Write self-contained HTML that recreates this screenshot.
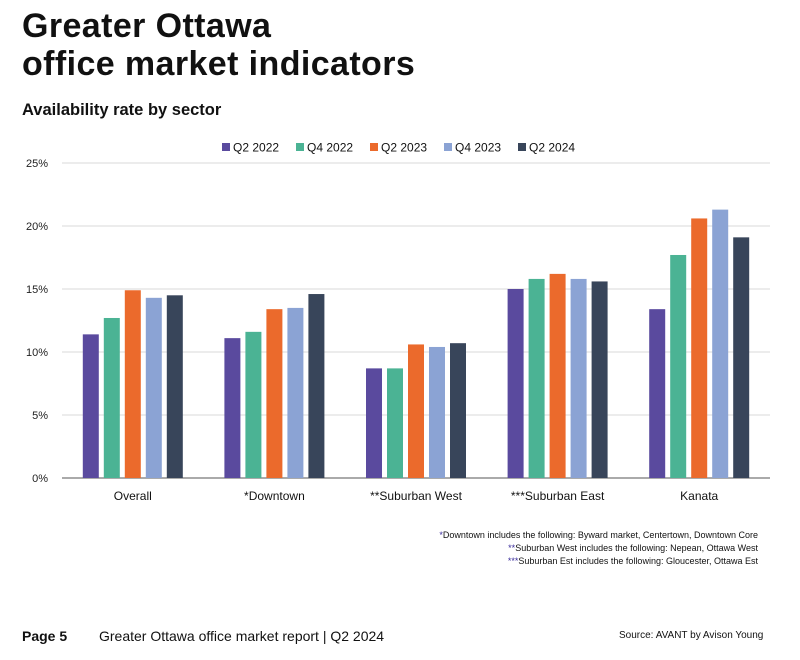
<!DOCTYPE html>
<html><head><meta charset="utf-8"><style>
body{margin:0;width:800px;height:659px;background:#fff;font-family:"Liberation Sans",sans-serif;color:#111;position:relative;overflow:hidden}
.t{position:absolute;margin:0}
</style></head><body>
<h1 class="t" style="left:22px;top:7px;font-size:34px;line-height:38px;font-weight:bold;letter-spacing:0.4px">Greater Ottawa<br>office market indicators</h1>
<div class="t" style="left:22px;top:101px;font-size:16.5px;font-weight:bold">Availability rate by sector</div>
<svg id="c" width="800" height="530" style="position:absolute;left:0;top:130px"></svg>
<div class="t" style="right:42px;top:529px;font-size:9px;line-height:13px;text-align:right">
<div><span style="color:#3a2c9a">*</span>Downtown includes the following: Byward market, Centertown, Downtown Core</div>
<div><span style="color:#3a2c9a">**</span>Suburban West includes the following: Nepean, Ottawa West</div>
<div><span style="color:#3a2c9a">***</span>Suburban Est includes the following: Gloucester, Ottawa Est</div></div>
<div class="t" style="left:22px;top:628px;font-size:14px;font-weight:bold">Page 5</div>
<div class="t" style="left:99px;top:628px;font-size:14px">Greater Ottawa office market report | Q2 2024</div>
<div class="t" style="left:619px;top:630px;font-size:10px">Source: AVANT by Avison Young</div>
<script>
const categories=["Overall","*Downtown","**Suburban West","***Suburban East","Kanata"];
const seriesNames=["Q2 2022","Q4 2022","Q2 2023","Q4 2023","Q2 2024"];
const q2_2022=[11.4,11.1,8.7,15.0,13.4];
const q4_2022=[12.7,11.6,8.7,15.8,17.7];
const q2_2023=[14.9,13.4,10.6,16.2,20.6];
const q4_2023=[14.3,13.5,10.4,15.8,21.3];
const q2_2024=[14.5,14.6,10.7,15.6,19.1];
const yTicks=[0,5,10,15,20,25];
const colors=["#5a4a9e","#4bb394","#eb6a2c","#8ba3d4","#38455a"];
const series=[q2_2022,q4_2022,q2_2023,q4_2023,q2_2024];
const svg=document.getElementById('c');const NS="http://www.w3.org/2000/svg";
const x0=62,x1=770,yb=348,yt=33;
const y=v=>yb-(v/25)*(yb-yt);
const gw=(x1-x0)/categories.length;
function mk(t,a,txt){const e=document.createElementNS(NS,t);for(const k in a)e.setAttribute(k,a[k]);if(txt!=null)e.textContent=txt;svg.appendChild(e);return e;}
yTicks.forEach(v=>{
const l=mk('line',{x1:x0,x2:x1,y1:y(v),y2:y(v),stroke:v?'#d9d9d9':'#555','stroke-width':1});


const t=mk('text',{x:48,y:y(v)+4,'text-anchor':'end','font-size':11,fill:'#222'},v+'%');


});
categories.forEach((c,i)=>{
const cx=x0+gw*(i+0.5);
series.forEach((s,j)=>{
const bx=cx-50+j*21;
const r=mk('rect',{x:bx,y:y(s[i]),width:16,height:yb-y(s[i]),fill:colors[j]});


});
const t=mk('text',{x:cx,y:yb+22,'text-anchor':'middle','font-size':12,fill:'#111'},c);


});
let lx=222;
seriesNames.forEach((n,j)=>{
const r=mk('rect',{x:lx,y:13,width:8,height:8,fill:colors[j]});


const t=mk('text',{x:lx+11,y:21.5,'font-size':12,fill:'#111'},n);


lx+=74;
});
</script>
</body></html>
